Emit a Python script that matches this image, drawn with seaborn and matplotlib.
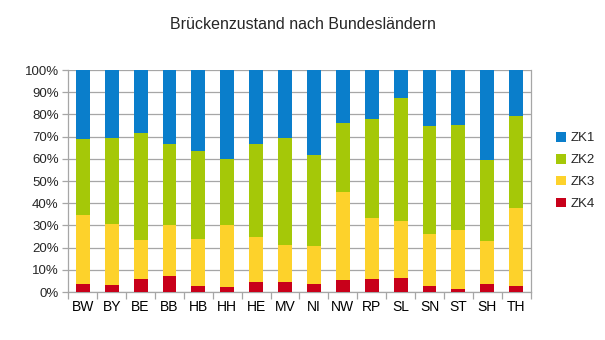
import matplotlib
matplotlib.use("Agg")
import matplotlib.pyplot as plt
import seaborn as sns
import numpy as np
import pandas as pd
from matplotlib.patches import Patch
from matplotlib.ticker import FixedLocator, PercentFormatter

laender = ["BW", "BY", "BE", "BB", "HB", "HH", "HE", "MV", "NI", "NW", "RP", "SL", "SN", "ST", "SH", "TH"]
zk4 = [3.7, 3.3, 6.0, 7.3, 2.9, 2.4, 4.6, 4.6, 3.7, 5.5, 6.0, 6.4, 2.9, 1.5, 3.7, 2.9]
zk3 = [31.1, 27.4, 17.5, 22.7, 21.1, 27.6, 20.3, 16.7, 17.1, 39.6, 27.4, 25.7, 23.3, 26.5, 19.4, 35.0]
zk2 = [34.2, 38.7, 48.3, 36.7, 39.7, 30.0, 41.8, 48.1, 41.0, 31.1, 44.6, 55.3, 48.6, 47.3, 36.4, 41.4]
zk1 = [31.0, 30.6, 28.2, 33.3, 36.3, 40.0, 33.3, 30.6, 38.2, 23.8, 22.0, 12.6, 25.2, 24.7, 40.5, 20.7]
serien = ["ZK1", "ZK2", "ZK3", "ZK4"]
farben = {"ZK1": "#0A7ECB", "ZK2": "#A5C808", "ZK3": "#FDD22B", "ZK4": "#C8001A"}

sns.set_theme(style="white")
plt.rcParams["font.family"] = ["Liberation Sans", "DejaVu Sans"]

df = pd.DataFrame({"Land": laender, "ZK1": zk1, "ZK2": zk2, "ZK3": zk3, "ZK4": zk4})
tot = df[["ZK1", "ZK2", "ZK3", "ZK4"]].sum(axis=1)
for s in serien:
    df[s] = df[s] / tot * 100
df["c4"] = df["ZK4"]
df["c3"] = df["c4"] + df["ZK3"]
df["c2"] = df["c3"] + df["ZK2"]
df["c1"] = df["c2"] + df["ZK1"]

fig = plt.figure(figsize=(6.05, 3.4), dpi=100)
ax = fig.add_axes([0.113, 0.141, 0.764, 0.653])

for col, s in [("c1", "ZK1"), ("c2", "ZK2"), ("c3", "ZK3"), ("c4", "ZK4")]:
    sns.barplot(data=df, x="Land", y=col, color=farben[s], width=0.48,
                saturation=1, ax=ax, zorder=3, linewidth=0)

ax.set_ylim(0, 100)
ax.set_xlim(-0.5, len(laender) - 0.5)
ax.set_yticks(np.arange(0, 101, 10))
ax.yaxis.set_major_formatter(PercentFormatter(decimals=0))
ax.set_xlabel("")
ax.set_ylabel("")
ax.grid(axis="y", color="#A6A6A6", linewidth=0.9, zorder=0)
for sp in ["top"]:
    ax.spines[sp].set_visible(False)
for sp in ["left", "bottom", "right"]:
    ax.spines[sp].set_color("#A6A6A6")
    ax.spines[sp].set_linewidth(0.9)

ax.tick_params(axis="x", which="major", length=0, labelsize=10, colors="black", pad=6)
ax.xaxis.set_minor_locator(FixedLocator(np.arange(-0.5, len(laender), 1.0)))
ax.tick_params(axis="x", which="minor", length=5, color="#A6A6A6", width=0.9, direction="out", bottom=True)
ax.tick_params(axis="y", which="major", length=4, color="#A6A6A6", width=0.9, labelsize=9.5, left=True, pad=3)

fig.suptitle("Brückenzustand nach Bundesländern", y=0.95, fontsize=11.5)

handles = [Patch(facecolor=farben[s], edgecolor="none", label=s) for s in serien]
fig.legend(handles=handles, loc="center left", bbox_to_anchor=(0.908, 0.497),
           frameon=False, fontsize=9.5, handlelength=0.75, handleheight=0.75,
           handletextpad=0.35, labelspacing=0.72, borderpad=0)

fig.savefig("out.png", dpi=100)
